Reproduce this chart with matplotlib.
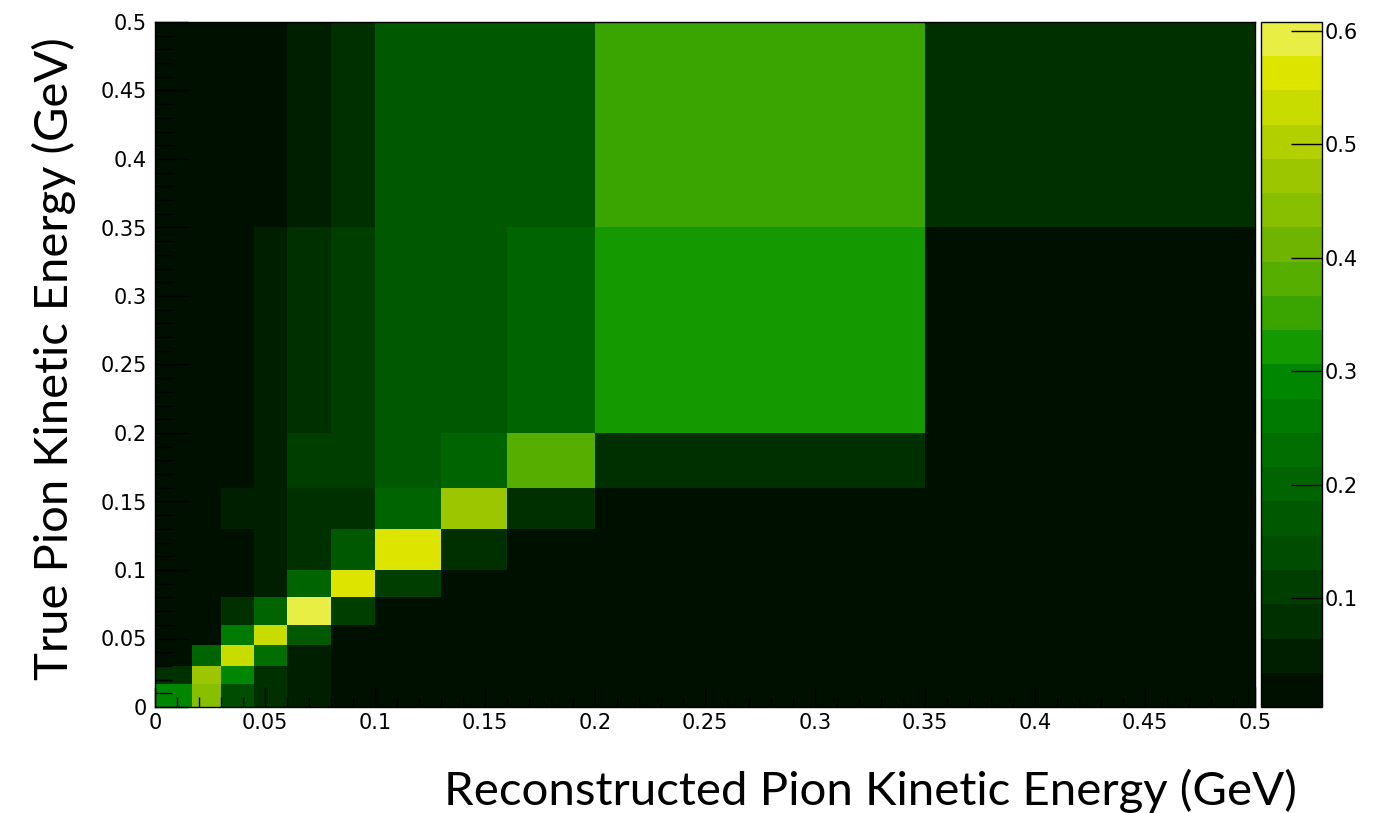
import numpy as np
import matplotlib
matplotlib.use("Agg")
import matplotlib.pyplot as plt
from matplotlib.colors import ListedColormap, BoundaryNorm
from matplotlib.ticker import MultipleLocator, FuncFormatter

# Variable-width kinetic-energy binning (GeV), shared by both axes
energy_edges = [0.0, 0.017, 0.03, 0.045, 0.06, 0.08, 0.10, 0.13, 0.16, 0.20, 0.35, 0.50]

# Migration fractions: one list per true-energy bin (bottom to top),
# entries ordered by reconstructed-energy bin (left to right)
true_bin_00 = [0.29, 0.44, 0.14, 0.08, 0.05, 0.01, 0.01, 0.01, 0.01, 0.01, 0.01]
true_bin_01 = [0.08, 0.47, 0.29, 0.08, 0.05, 0.01, 0.01, 0.01, 0.01, 0.01, 0.01]
true_bin_02 = [0.01, 0.20, 0.53, 0.22, 0.05, 0.01, 0.01, 0.01, 0.01, 0.01, 0.01]
true_bin_03 = [0.01, 0.01, 0.26, 0.53, 0.17, 0.02, 0.01, 0.01, 0.01, 0.01, 0.01]
true_bin_04 = [0.01, 0.01, 0.07, 0.19, 0.60, 0.11, 0.01, 0.01, 0.01, 0.01, 0.01]
true_bin_05 = [0.01, 0.01, 0.01, 0.04, 0.20, 0.56, 0.11, 0.01, 0.01, 0.01, 0.01]
true_bin_06 = [0.01, 0.01, 0.01, 0.04, 0.08, 0.17, 0.57, 0.08, 0.01, 0.01, 0.01]
true_bin_07 = [0.01, 0.01, 0.04, 0.04, 0.08, 0.08, 0.20, 0.47, 0.08, 0.01, 0.01]
true_bin_08 = [0.01, 0.01, 0.01, 0.04, 0.11, 0.11, 0.17, 0.20, 0.38, 0.08, 0.01]
true_bin_09 = [0.01, 0.01, 0.01, 0.04, 0.08, 0.11, 0.17, 0.17, 0.20, 0.32, 0.01]
true_bin_10 = [0.01, 0.01, 0.01, 0.01, 0.05, 0.08, 0.17, 0.17, 0.17, 0.35, 0.08]

z_min, z_max = 0.004, 0.608
n_contours = 20
colorbar_ticks = [0.1, 0.2, 0.3, 0.4, 0.5, 0.6]

# 20-level palette: near-black green through green to yellow
palette = [
    "#001000", "#001e00", "#003000", "#003e00", "#004c00",
    "#005800", "#006400", "#006e00", "#007a00", "#008600",
    "#149a00", "#3aa400", "#55ae00", "#6eb400", "#88bf00",
    "#9cc600", "#b2d000", "#c8dc00", "#dce400", "#e8ee44",
]

matrix = np.array([true_bin_00, true_bin_01, true_bin_02, true_bin_03,
                   true_bin_04, true_bin_05, true_bin_06, true_bin_07,
                   true_bin_08, true_bin_09, true_bin_10])

cmap = ListedColormap(palette)
cmap.set_under(palette[0])
levels = np.linspace(z_min, z_max, n_contours + 1)
norm = BoundaryNorm(levels, cmap.N)

W, H = 1375, 813
fig = plt.figure(figsize=(W / 100, H / 100), dpi=100)
fig.patch.set_facecolor("white")

def fx(px):
    return px / W

def fy(py):
    return (H - py) / H

ax = fig.add_axes([fx(155), fy(707), fx(1255) - fx(155), fy(22) - fy(707)])
mesh = ax.pcolormesh(energy_edges, energy_edges, matrix, cmap=cmap, norm=norm,
                     shading="flat", linewidth=0, antialiased=False)
ax.set_xlim(0, 0.5)
ax.set_ylim(0, 0.5)

tick_family = "DejaVu Sans"
tick_size = 15

def fmt(v, pos=None):
    return f"{round(v, 4):g}"

for axis in (ax.xaxis, ax.yaxis):
    axis.set_major_locator(MultipleLocator(0.05))
    axis.set_minor_locator(MultipleLocator(0.01))
    axis.set_major_formatter(FuncFormatter(fmt))

ax.tick_params(axis="x", which="major", direction="in", length=14.5, width=1,
               top=False, pad=4, labelsize=tick_size)
ax.tick_params(axis="x", which="minor", direction="in", length=7.2, width=1, top=False)
ax.tick_params(axis="y", which="major", direction="in", length=23.8, width=1,
               right=False, pad=6, labelsize=tick_size)
ax.tick_params(axis="y", which="minor", direction="in", length=11.9, width=1, right=False)
for lab in ax.get_xticklabels() + ax.get_yticklabels():
    lab.set_family(tick_family)
for sp in ax.spines.values():
    sp.set_linewidth(1)
    sp.set_color("black")

# Colour scale
cax = fig.add_axes([fx(1261), fy(707), fx(1322) - fx(1261), fy(22) - fy(707)])
cb = fig.colorbar(mesh, cax=cax, ticks=colorbar_ticks)
cb.ax.yaxis.set_major_formatter(FuncFormatter(fmt))
cb.ax.minorticks_off()
cb.ax.tick_params(direction="in", length=22.5, width=1, right=True, left=False,
                  pad=2, labelsize=tick_size)
for lab in cb.ax.get_yticklabels():
    lab.set_family(tick_family)
cb.outline.set_linewidth(1)
cb.outline.set_edgecolor("black")

# Axis titles
label_font = "Lato"
xl = fig.text(fx(1297), fy(805), "Reconstructed Pion Kinetic Energy (GeV)",
              ha="right", va="baseline", family=label_font, fontsize=30)
yl = fig.text(fx(68), fy(359), "True Pion Kinetic Energy (GeV)",
              ha="center", va="baseline", rotation=90, rotation_mode="anchor",
              family=label_font, fontsize=30)

# Size the titles to their spans along the axes
fig.canvas.draw()
renderer = fig.canvas.get_renderer()
wx = xl.get_window_extent(renderer).width
xl.set_fontsize(30 * 850 / wx)
wy = yl.get_window_extent(renderer).height
yl.set_fontsize(30 * 642 / wy)

fig.savefig("out.png", dpi=100, facecolor="white")
